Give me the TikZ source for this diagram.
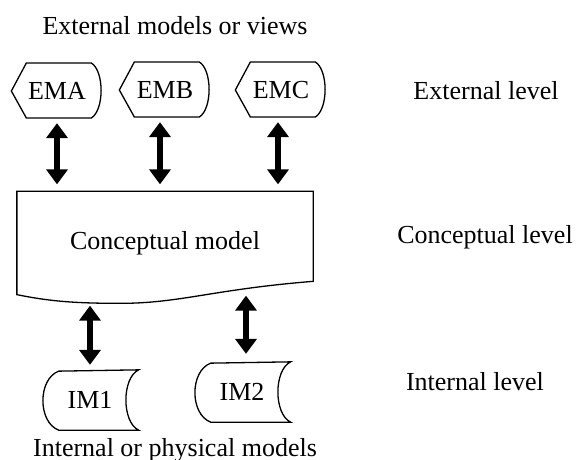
\documentclass[tikz,border=0pt]{standalone}
\usepackage{fontspec}
\setmainfont{Liberation Serif}
\usetikzlibrary{arrows.meta}

\begin{document}
\begin{tikzpicture}[x=0.5pt,y=-0.5pt,
    every node/.style={inner sep=0pt,font=\fontsize{13}{15}\selectfont},
    extbox/.style={minimum width=45pt,minimum height=27.5pt},
    intbox/.style={minimum width=48pt,minimum height=29.5pt},
    concbox/.style={minimum width=147.5pt,minimum height=51pt},
    dblarrow/.style={line width=2.8pt,{Triangle[width=10.5pt,length=7.5pt]}-{Triangle[width=10.5pt,length=7.5pt]}}]
            \useasboundingbox (0,0) rectangle (579,460);
            \tikzstyle{every path}+=[line width=0.65pt]
            % external level
            \node (title) at (175,26) {External models or views};
            \node [extbox] (ema) at (57,91) {EMA};
            \node [extbox] (emb) at (165,90) {EMB};
            \node [extbox] (emc) at (281,90) {EMC};
            \foreach \n in {ema,emb,emc}
              \draw [black] (\n.west) -- ++(15,-28) -- ++(65,0) .. controls +(13,8) and +(13,-8) .. ++(0,55) -- ++(-65,0) -- cycle;
            % conceptual level
            \node [concbox] (cm) at (165,243) {Conceptual model};
            \draw [black] (cm.north west) -- (cm.north east) -- ++(0,90) .. controls +(-100,8) and +(60,0) .. ++(-193,22) .. controls +(-50,0) and +(30,6) .. (cm.south west) -- cycle;
            % internal level
            \node [intbox] (im1) at (90,400) {IM1};
            \node [intbox] (im2) at (242,392) {IM2};
            \foreach \n in {im1,im2}
              \draw [black] (\n.north east) .. controls +(-17,8) and +(-17,-8) .. (\n.south east) -- ++(-80,0) .. controls +(-21,-8) and +(-21,8) .. ++(0,-59) -- cycle;
            \node [anchor=base] (phys) at (175,456) {Internal or physical models};
            % level names
            \node (extlvl) at (486,91) {External level};
            \node (conlvl) at (485,237) {Conceptual level};
            \node (intlvl) at (475,382) {Internal level};
            % arrows
            \foreach \n/\dx in {ema/0pt,emb/-2.5pt,emc/-1.5pt}
              \draw [dblarrow,shorten <=2pt,shorten >=3.5pt] ([xshift=\dx]\n.south) -- ([xshift=\dx]\n.south |- cm.north);
            \draw [dblarrow,shorten <=5.5pt,shorten >=2.5pt] (im1.north |- cm.south) -- (im1.north);
            \draw [dblarrow,shorten <=0.5pt,shorten >=4pt] ([xshift=2pt]im2.north |- cm.south) -- ([xshift=2pt]im2.north);
\end{tikzpicture}
\end{document}
